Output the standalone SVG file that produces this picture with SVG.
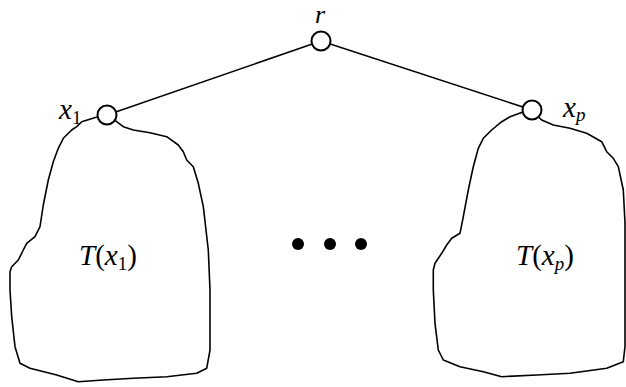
<svg xmlns="http://www.w3.org/2000/svg" width="626" height="387" viewBox="0 0 626 387">
<style>
.e{stroke:#000;stroke-width:1.5;fill:none}
.n{stroke:#000;stroke-width:2;fill:#fff}
.b{stroke:#000;stroke-width:1.6;fill:none;stroke-linejoin:round}
.t{font-family:"Liberation Serif","Times New Roman",serif;font-style:italic;font-size:29px;fill:#000}
.r{font-style:normal}
.s{font-size:19px}
</style>
<rect width="626" height="387" fill="#fff"/>
<g id="connectors">
<line class="e" x1="321" y1="41" x2="107" y2="115"/>
<line class="e" x1="321" y1="41" x2="532" y2="110"/>
</g>
<g id="tree1">
<path class="b" d="M97,117 L81.7,121.7 L76.7,126.7 L71.7,130 L63.3,138.3 L58.3,148.3 L53.3,161.7 L48.3,180 L43.3,205 L40,226.7 L35,236.7 L26.7,243.3 L23.3,250 L18.3,260 L11.7,266.7 L10,271.7 L10,290 L11.7,316.7 L15,346.7 L20,363.3 L30,368.3 L56.7,375 L78.3,381.7 L103.3,380 L133.3,378.3 L166.7,376.7 L196.7,373.3 L206.7,368.3 L210,350 L210,290 L208.3,250 L203.3,206.7 L198.3,183.3 L193.3,166.7 L186.7,160 L183.3,151.7 L178.3,145 L166.7,136.7 L150,132.7 L133.3,130 L123.3,126.7 L116.7,121.7 L113,119"/>
<text x="79" y="265" class="t">T<tspan class="r">(</tspan>x<tspan class="r s" dy="5">1</tspan><tspan class="r" dy="-5">)</tspan></text>
</g>
<g id="treep">
<path class="b" d="M523,112 L510,116.7 L501.7,121.7 L491.7,130 L483.3,138.3 L478.3,148.3 L473.3,166.7 L468.3,190 L463.3,216.7 L460,233.3 L451.7,238.3 L446.7,245 L441.7,253.3 L435,263.3 L433.3,270 L433.3,290 L435,323.3 L438.3,350 L443.3,360 L460,366.7 L483.3,371.7 L501.7,376.7 L536.7,375 L570,373.3 L606.7,368.3 L623.3,361.7 L625,346.7 L625,223 L623.3,190 L618.3,166.7 L613.3,158.3 L606.7,151.7 L601.7,141.7 L586.7,133.3 L570,128.3 L553.3,125 L541.7,120 L538.3,116.7"/>
<text x="516" y="265" class="t">T<tspan class="r">(</tspan>x<tspan class="s" dy="5">p</tspan><tspan class="r" dy="-5">)</tspan></text>
</g>
<g id="r">
<circle class="n" cx="321" cy="41" r="9.5"/>
<text x="315" y="23" class="t" style="font-size:26px">r</text>
</g>
<g id="x1">
<circle class="n" cx="107" cy="115" r="9.5"/>
<text x="59" y="119" class="t">x<tspan class="r s" dy="5">1</tspan></text>
</g>
<g id="xp">
<circle class="n" cx="532" cy="110" r="9.5"/>
<text x="563" y="117" class="t">x<tspan class="s" dy="4">p</tspan></text>
</g>
<g id="dots">
<circle cx="298" cy="244" r="6"/>
<circle cx="330" cy="244" r="6"/>
<circle cx="361" cy="244" r="6"/>
</g>
</svg>
